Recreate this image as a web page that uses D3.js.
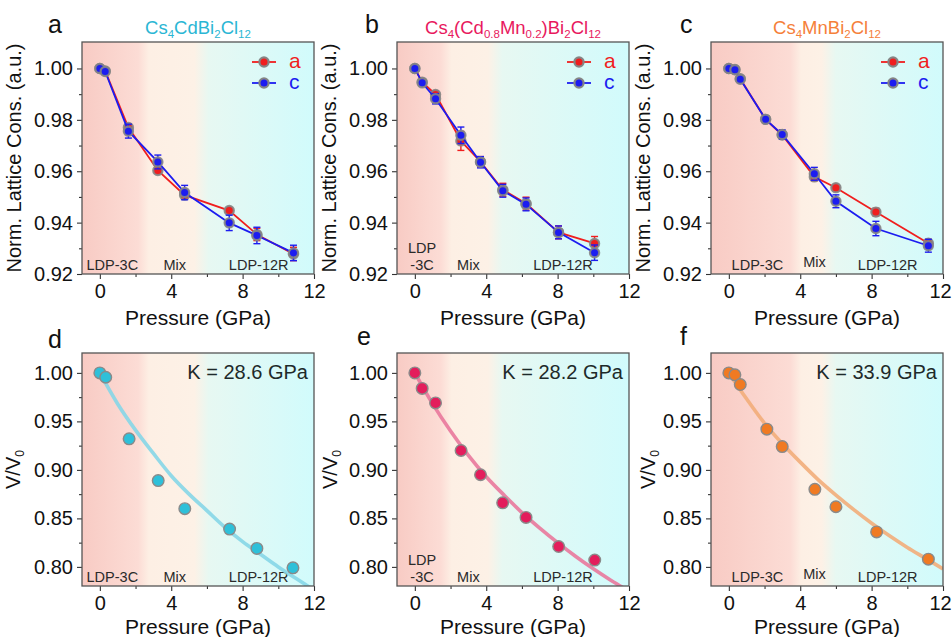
<!DOCTYPE html>
<html><head><meta charset="utf-8">
<script src="https://cdn.jsdelivr.net/npm/d3@7"></script>
<style>
body{margin:0;background:#fff}
svg{display:block}
text{font-family:"Liberation Sans",Arial,Helvetica,sans-serif}
</style>
</head><body>
<svg id="chart" width="952" height="637"></svg>
<script>
// ---------------- DATA ----------------
// Panel a: Cs4CdBi2Cl12
const pressureA = [0, 0.3, 1.6, 3.25, 4.75, 7.25, 8.8, 10.85];
const latA_a    = [1.000, 0.9990, 0.9770, 0.9603, 0.9507, 0.9447, 0.9354, 0.9278];
const latA_aErr = [0.0007, 0.0008, 0.0015, 0.0008, 0.0012, 0.0008, 0.0024, 0.0026];
const latA_c    = [1.000, 0.9988, 0.9756, 0.9636, 0.9517, 0.9399, 0.9350, 0.9282];
const latA_cErr = [0.0008, 0.0009, 0.0027, 0.0027, 0.0028, 0.0030, 0.0032, 0.0030];
// Panel b: Cs4(Cd0.8Mn0.2)Bi2Cl12
const pressureB = [0, 0.41, 1.16, 2.58, 3.68, 4.93, 6.23, 8.05, 10.07];
const latB_a    = [1.000, 0.9947, 0.9899, 0.9718, 0.9637, 0.9528, 0.9474, 0.9362, 0.9319];
const latB_aErr = [0.0005, 0.0007, 0.0012, 0.0037, 0.0020, 0.0025, 0.0025, 0.0025, 0.0027];
const latB_c    = [1.000, 0.9944, 0.9882, 0.9740, 0.9635, 0.9524, 0.9471, 0.9362, 0.9283];
const latB_cErr = [0.0005, 0.0008, 0.0020, 0.0032, 0.0022, 0.0025, 0.0025, 0.0025, 0.0030];
// Panel c: Cs4MnBi2Cl12
const pressureC = [0, 0.34, 0.64, 2.06, 2.99, 4.79, 6.0, 8.24, 11.18];
const latC_a    = [1.000, 0.9996, 0.9960, 0.9802, 0.9741, 0.9578, 0.9536, 0.9441, 0.9320];
const latC_aErr = [0.0005, 0.0006, 0.0008, 0.0010, 0.0012, 0.0015, 0.0012, 0.0015, 0.0015];
const latC_c    = [1.000, 0.9995, 0.9958, 0.9802, 0.9743, 0.9590, 0.9483, 0.9377, 0.9310];
const latC_cErr = [0.0005, 0.0006, 0.0008, 0.0012, 0.0018, 0.0025, 0.0025, 0.0028, 0.0025];

// Panels d-f: V/V0
const pressureD = [0, 0.33, 1.64, 3.27, 4.76, 7.27, 8.8, 10.82];
const volD      = [1.000, 0.9955, 0.932, 0.889, 0.860, 0.839, 0.819, 0.799];
const pressureE = [0, 0.41, 1.16, 2.59, 3.68, 4.92, 6.23, 8.06, 10.08];
const volE      = [1.000, 0.984, 0.969, 0.920, 0.895, 0.866, 0.851, 0.821, 0.807];
const pressureF = [0, 0.34, 0.64, 2.13, 2.99, 4.82, 6.0, 8.28, 11.18];
const volF      = [1.000, 0.998, 0.988, 0.942, 0.924, 0.880, 0.862, 0.836, 0.808];

// Fit curves
const fitPressure = [0, 1, 2, 3, 4, 5, 6, 7, 8, 9, 10, 11, 12];
const fitD = [1.000, 0.968, 0.941, 0.917, 0.894, 0.875, 0.858, 0.841, 0.826, 0.813, 0.800, 0.788, 0.776];
const fitE = [1.000, 0.968, 0.940, 0.915, 0.893, 0.874, 0.856, 0.840, 0.825, 0.811, 0.798, 0.786, 0.775];
const fitF = [1.000, 0.973, 0.948, 0.927, 0.908, 0.890, 0.874, 0.859, 0.845, 0.832, 0.820, 0.809, 0.798];
const bulkModulus = ["28.6", "28.2", "33.9"];

// Phase boundaries (GPa) per compound
const phaseBounds = [[2.5, 5.6], [1.8, 4.4], [3.8, 5.5]];
const phaseLabels = [
  [{t:["LDP-3C"], p:0.7}, {t:["Mix"], p:4.2}, {t:["LDP-12R"], p:8.9}],
  [{t:["LDP","-3C"], p:0.4}, {t:["Mix"], p:3.0}, {t:["LDP-12R"], p:8.3}],
  [{t:["LDP-3C"], p:1.6}, {t:["Mix"], p:4.8, up:3}, {t:["LDP-12R"], p:8.9}]
];

// Ticks
const xTicks = [0, 4, 8, 12];
const xMinor = [2, 6, 10];
const yTicksTop = [0.92, 0.94, 0.96, 0.98, 1.00];
const yMinorTop = [0.93, 0.95, 0.97, 0.99];
const yTicksBot = [0.80, 0.85, 0.90, 0.95, 1.00];
const yMinorBot = [0.825, 0.875, 0.925, 0.975];

// Titles
const titles = [
  [["Cs",0],["4",1],["CdBi",0],["2",1],["Cl",0],["12",1]],
  [["Cs",0],["4",1],["(Cd",0],["0.8",1],["Mn",0],["0.2",1],[")Bi",0],["2",1],["Cl",0],["12",1]],
  [["Cs",0],["4",1],["MnBi",0],["2",1],["Cl",0],["12",1]]
];
const titleColors = ["#2ab6d4", "#e8195e", "#f5803a"];
const dotColors = ["#2ec0d9", "#e31d5c", "#f07a22"];
const fitColors = ["#86d6e7", "#e9789c", "#f2ad7a"];
const lettersTop = ["a","b","c"], lettersBot = ["d","e","f"];

// ---------------- LAYOUT ----------------
const svg = d3.select("#chart");
const colX = [82, 397, 711];
const plotW = 232;
const topRow = {y:42, h:232}, botRow = {y:353, h:233};
const xDomain = [-1, 12];
const yDomTop = [0.92, 1.0103];
const yDomBot = [0.7803, 1.0205];
const defs = svg.append("defs");

const topData = [
  {P:pressureA, a:latA_a, ae:latA_aErr, c:latA_c, ce:latA_cErr},
  {P:pressureB, a:latB_a, ae:latB_aErr, c:latB_c, ce:latB_cErr},
  {P:pressureC, a:latC_a, ae:latC_aErr, c:latC_c, ce:latC_cErr}
];
const botData = [
  {P:pressureD, v:volD, fit:fitD},
  {P:pressureE, v:volE, fit:fitE},
  {P:pressureF, v:volF, fit:fitF}
];

function background(g, id, x, y, h, bounds){
  const [x0, x1] = x.range();
  const off = p => Math.max(0, Math.min(1, (x(p) - x0) / (x1 - x0)));
  const grad = defs.append("linearGradient").attr("id", id)
    .attr("gradientUnits","userSpaceOnUse").attr("x1", x0).attr("x2", x1).attr("y1",0).attr("y2",0);
  const stops = [
    [0, "#f8cbc4"], [off(bounds[0]-0.35), "#fcdcd5"], [off(bounds[0]+0.25), "#fdefe4"],
    [off(bounds[1]-0.3), "#fdf1e6"], [off(bounds[1]+0.5), "#e7f8f2"], [1, "#d1fbfc"]
  ];
  stops.forEach(s => grad.append("stop").attr("offset", s[0]).attr("stop-color", s[1]));
  g.append("rect").attr("x", x0).attr("y", y).attr("width", x1-x0).attr("height", h)
    .attr("fill", `url(#${id})`);
}

function axes(g, x, yScale, y0, h, yTicks, yMinor, fmt, lastShift){
  const [x0, x1] = x.range();
  const ax = g.append("g").attr("transform", `translate(0,${y0+h})`)
    .call(d3.axisBottom(x).tickValues(xTicks).tickSize(5).tickPadding(5).tickFormat(d3.format("d")));
  ax.select(".domain").remove();
  ax.selectAll("line").attr("stroke","#333").attr("stroke-width",1.1);
  ax.selectAll("text").attr("font-size",20).attr("fill","#111").attr("font-family",'"Liberation Sans",Arial,sans-serif')
    .attr("dx", d => d === 12 ? -lastShift : 0);
  const axm = g.append("g").attr("transform", `translate(0,${y0+h})`)
    .call(d3.axisBottom(x).tickValues(xMinor).tickSize(3).tickFormat(""));
  axm.select(".domain").remove();
  axm.selectAll("line").attr("stroke","#333").attr("stroke-width",1.1);

  const ay = g.append("g").attr("transform", `translate(${x0},0)`)
    .call(d3.axisLeft(yScale).tickValues(yTicks).tickSize(5).tickPadding(4).tickFormat(fmt));
  ay.select(".domain").remove();
  ay.selectAll("line").attr("stroke","#333").attr("stroke-width",1.1);
  ay.selectAll("text").attr("font-size",20).attr("fill","#111").attr("font-family",'"Liberation Sans",Arial,sans-serif');
  const aym = g.append("g").attr("transform", `translate(${x0},0)`)
    .call(d3.axisLeft(yScale).tickValues(yMinor).tickSize(3).tickFormat(""));
  aym.select(".domain").remove();
  aym.selectAll("line").attr("stroke","#333").attr("stroke-width",1.1);

  g.append("rect").attr("x", x0).attr("y", y0).attr("width", x1-x0).attr("height", h)
    .attr("fill","none").attr("stroke","#555").attr("stroke-width",1.3);
}

function phaseText(g, x, yBottom, labels){
  labels.forEach(l => {
    const n = l.t.length;
    l.t.forEach((s, i) => {
      g.append("text").attr("x", x(l.p)).attr("y", yBottom - 4 - (l.up||0) - (n-1-i)*17)
        .attr("text-anchor","middle").attr("font-size",14.5).attr("fill","#2a2a2a").text(s);
    });
  });
}

function subText(sel, parts, mainSize, subSize){
  parts.forEach(([s, sub]) => {
    const t = sel.append("tspan").text(s);
    if (sub) { t.attr("font-size", subSize).attr("dy", 4); }
    else { t.attr("font-size", mainSize).attr("dy", sel.selectAll("tspan").size() > 1 ? -4 : 0); }
  });
}

// ---------------- TOP ROW ----------------
topData.forEach((d, k) => {
  const g = svg.append("g");
  const x = d3.scaleLinear().domain(xDomain).range([colX[k], colX[k] + plotW]);
  const y = d3.scaleLinear().domain(yDomTop).range([topRow.y + topRow.h, topRow.y]);
  background(g, "gt"+k, x, topRow.y, topRow.h, phaseBounds[k]);
  phaseText(g, x, topRow.y + topRow.h, phaseLabels[k]);

  const series = [
    {vals:d.a, err:d.ae, col:"#f01e1e"},
    {vals:d.c, err:d.ce, col:"#1c1cf0"}
  ];
  const line = d3.line().x((v,i) => x(d.P[i])).y(v => y(v));
  series.forEach(s => {
    g.append("path").attr("d", line(s.vals)).attr("fill","none").attr("stroke", s.col).attr("stroke-width",1.8);
    s.vals.forEach((v,i) => {
      const px = x(d.P[i]);
      const yt = y(v + s.err[i]), yb = y(v - s.err[i]);
      g.append("line").attr("x1",px).attr("x2",px).attr("y1",yt).attr("y2",yb).attr("stroke",s.col).attr("stroke-width",1.4);
      [yt,yb].forEach(yy => g.append("line").attr("x1",px-3.5).attr("x2",px+3.5).attr("y1",yy).attr("y2",yy).attr("stroke",s.col).attr("stroke-width",1.4));
    });
    g.selectAll(null).data(s.vals).join("circle")
      .attr("cx",(v,i)=>x(d.P[i])).attr("cy",v=>y(v)).attr("r",4.6)
      .attr("fill", s.col).attr("stroke","#858585").attr("stroke-width",2.2).attr("stroke-opacity",0.9);
  });

  // legend
  const x0 = colX[k];
  [["a","#f01e1e",20],["c","#1c1cf0",41]].forEach(([lab,col,dy]) => {
    const ly = topRow.y + dy;
    g.append("line").attr("x1",x0+170).attr("x2",x0+194).attr("y1",ly).attr("y2",ly).attr("stroke",col).attr("stroke-width",1.8);
    g.append("circle").attr("cx",x0+182).attr("cy",ly).attr("r",4.6).attr("fill",col).attr("stroke","#858585").attr("stroke-width",2.2);
    g.append("text").attr("x",x0+207).attr("y",ly+6).attr("font-size",21).attr("fill",col).text(lab);
  });

  axes(g, x, y, topRow.y, topRow.h, yTicksTop, yMinorTop, d3.format(".2f"), k === 2 ? 3 : 0);

  // labels
  g.append("text").attr("x", colX[k] + [-34,-32,-31][k]).attr("y", 33).attr("font-size",25).attr("fill","#111").text(lettersTop[k]);
  const tt = g.append("text").attr("x", colX[k] + plotW/2).attr("y", 34).attr("text-anchor","middle").attr("fill", titleColors[k]);
  subText(tt, titles[k], 18.5, 11.5);
  g.append("text").attr("transform", `translate(${colX[k]-61},${topRow.y+topRow.h/2}) rotate(-90)`)
    .attr("text-anchor","middle").attr("font-size",20).attr("fill","#111").text("Norm. Lattice Cons. (a.u.)");
  g.append("text").attr("x", colX[k] + plotW/2).attr("y", 325).attr("text-anchor","middle")
    .attr("font-size",21).attr("fill","#111").text("Pressure (GPa)");
});

// ---------------- BOTTOM ROW ----------------
botData.forEach((d, k) => {
  const g = svg.append("g");
  const x = d3.scaleLinear().domain(xDomain).range([colX[k], colX[k] + plotW]);
  const y = d3.scaleLinear().domain(yDomBot).range([botRow.y + botRow.h, botRow.y]);
  background(g, "gb"+k, x, botRow.y, botRow.h, phaseBounds[k]);
  phaseText(g, x, botRow.y + botRow.h, phaseLabels[k]);

  defs.append("clipPath").attr("id","clip"+k).append("rect")
    .attr("x", colX[k]).attr("y", botRow.y).attr("width", plotW).attr("height", botRow.h);
  const line = d3.line().curve(d3.curveMonotoneX).x((v,i)=>x(fitPressure[i])).y(v=>y(v));
  g.append("path").attr("d", line(d.fit)).attr("clip-path",`url(#clip${k})`)
    .attr("fill","none").attr("stroke", fitColors[k]).attr("stroke-width",3.6).attr("stroke-opacity",0.9);

  g.selectAll(null).data(d.v).join("circle")
    .attr("cx",(v,i)=>x(d.P[i])).attr("cy",v=>y(v)).attr("r",5.8)
    .attr("fill", dotColors[k]).attr("stroke","#8a8a8a").attr("stroke-width",1.4);

  axes(g, x, y, botRow.y, botRow.h, yTicksBot, yMinorBot, d3.format(".2f"), k === 2 ? 3 : 0);

  g.append("text").attr("x", colX[k] + plotW - 6).attr("y", botRow.y + 26).attr("text-anchor","end")
    .attr("font-size",20).attr("fill","#1e2a2a").text(`K = ${bulkModulus[k]} GPa`);

  g.append("text").attr("x", colX[k] + [-34,-40,-31][k]).attr("y", [348,345,345][k]).attr("font-size",25).attr("fill","#111").text(lettersBot[k]);
  const yl = g.append("text").attr("transform", `translate(${colX[k]+[-62,-60,-56][k]},${botRow.y+botRow.h/2}) rotate(-90)`)
    .attr("text-anchor","middle").attr("fill","#111");
  yl.append("tspan").attr("font-size",20).text("V/V");
  yl.append("tspan").attr("font-size",12).attr("dy",4).text("0");
  g.append("text").attr("x", colX[k] + plotW/2).attr("y", 634).attr("text-anchor","middle")
    .attr("font-size",21).attr("fill","#111").text("Pressure (GPa)");
});
</script>
</body></html>
